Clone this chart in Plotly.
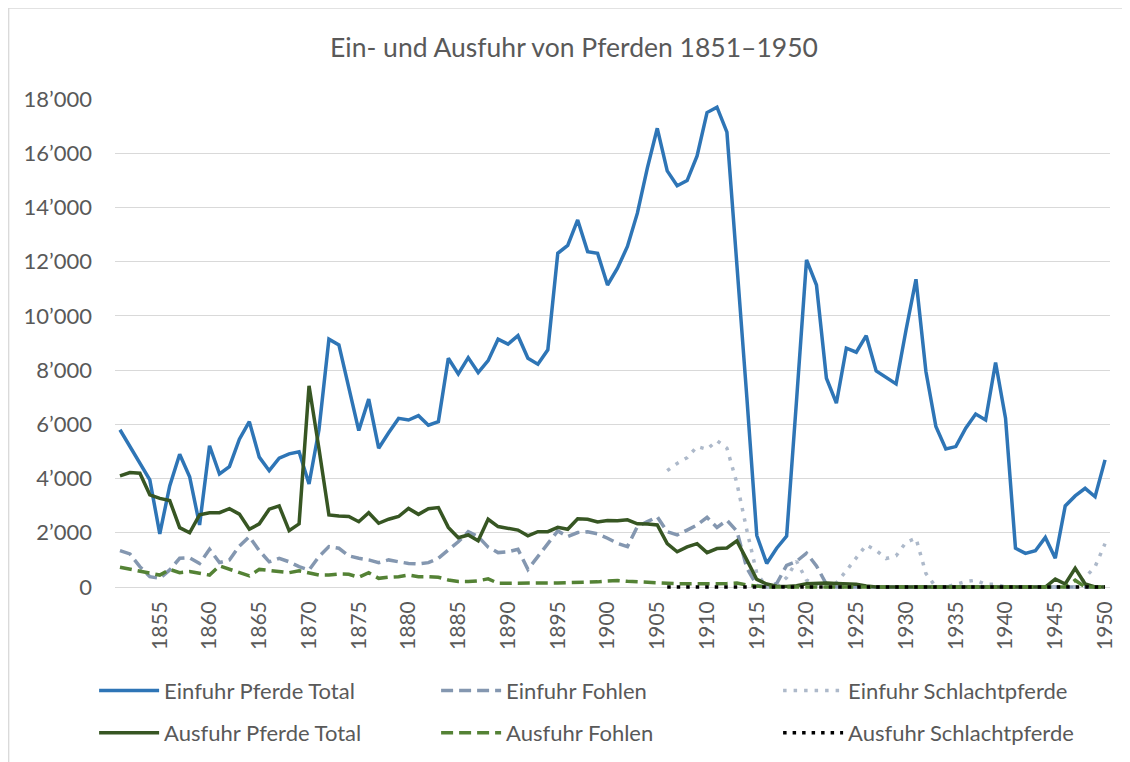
import plotly.graph_objects as go

years = list(range(1851, 1951))

einfuhr_total = [
    5800, 5180, 4560, 3950, 1960, 3730, 4900, 4070, 2290, 5210,
    4170, 4440, 5450, 6100, 4790, 4290, 4750, 4910, 4990, 3800,
    5800, 9140, 8930, 7400, 5770, 6930, 5120, 5690, 6220, 6160,
    6320, 5970, 6100, 8440, 7860, 8460, 7910, 8350, 9140, 8960,
    9270, 8440, 8220, 8750, 12310, 12600, 13540, 12370, 12310, 11140,
    11760, 12560, 13790, 15450, 16920, 15350, 14800, 14990, 15900, 17500,
    17700, 16780, 12000, 7000, 1900, 870, 1430, 1880, 6900, 12070,
    11140, 7700, 6780, 8810, 8660, 9270, 7970, 7720, 7490, 9480,
    11350, 7950, 5920, 5090, 5180, 5860, 6380, 6160, 8280, 6230,
    1430, 1240, 1340, 1830, 1060, 2990, 3360, 3640, 3330, 4690,
]

einfuhr_fohlen = [
    1340, 1220, 750, 380, 320, 630, 1060, 1080, 870, 1390,
    900, 1000, 1510, 1860, 1340, 930, 1060, 930, 750, 630,
    1120, 1490, 1430, 1150, 1060, 1000, 900, 1000, 930, 870,
    850, 900, 1060, 1370, 1670, 2040, 1860, 1470, 1270, 1300,
    1390, 650, 1120, 1590, 2070, 1860, 2010, 2040, 1960, 1800,
    1610, 1490, 2230, 2410, 2590, 2040, 1920, 2100, 2290, 2570,
    2200, 2460, 2060, 700, 60, 0, 130, 800, 950, 1250,
    780, 100, 0, 0, 0, 0, 0, 0, 0, 0,
    0, 0, 0, 0, 0, 0, 0, 0, 0, 0,
    0, 0, 0, 0, 0, 0, 0, 0, 0, 0,
]

einfuhr_schlacht = [None] * 55 + [
    4290, 4560, 4770, 5180, 5080, 5400, 5120, 3830, 2100,
    500, 0, 0, 350, 950, 250, 100, 0, 150, 600,
    1100, 1550, 1350, 1050, 1150, 1650, 1800, 500, 0, 0,
    100, 200, 250, 100, 100, 0, 0, 0, 0, 0,
    0, 0, 0, 350, 750, 1600,
]

ausfuhr_total = [
    4100, 4220, 4200, 3400, 3270, 3190, 2190, 2000, 2660, 2740,
    2740, 2890, 2690, 2130, 2330, 2870, 2990, 2080, 2330, 7420,
    5100, 2660, 2620, 2600, 2410, 2740, 2350, 2500, 2600, 2900,
    2680, 2890, 2930, 2200, 1820, 1920, 1710, 2500, 2230, 2160,
    2100, 1890, 2040, 2040, 2200, 2130, 2520, 2500, 2400, 2450,
    2440, 2480, 2330, 2320, 2290, 1600, 1300, 1480, 1600, 1270,
    1420, 1440, 1700, 1000, 280, 110, 30, 20, 50, 120,
    150, 150, 130, 110, 100, 40, 0, 0, 0, 0,
    0, 0, 0, 0, 0, 0, 0, 0, 0, 0,
    0, 0, 0, 0, 290, 110, 690, 110, 0, 0,
]

ausfuhr_fohlen = [
    730, 660, 570, 530, 440, 650, 530, 570, 500, 440,
    780, 650, 530, 410, 650, 600, 570, 530, 600, 530,
    440, 440, 480, 470, 360, 530, 320, 360, 380, 440,
    380, 380, 360, 260, 200, 200, 230, 300, 140, 140,
    140, 140, 120, 120, 150, 160, 160, 170, 190, 220,
    240, 210, 190, 160, 150, 130, 120, 120, 110, 120,
    120, 130, 150, 70, 20, 0, 0, 0, 0, 0,
    0, 0, 0, 0, 0, 0, 0, 0, 0, 0,
    0, 0, 0, 0, 0, 0, 0, 0, 0, 0,
    0, 0, 0, 0, 0, 0, 250, 0, 0, 0,
]

ausfuhr_schlacht = [None] * 55 + [0] * 45

y_tickvals = [0, 2000, 4000, 6000, 8000, 10000, 12000, 14000, 16000, 18000]
y_ticktext = ["0", "2’000", "4’000", "6’000", "8’000", "10’000", "12’000",
              "14’000", "16’000", "18’000"]
x_tickvals = list(range(1855, 1951, 5))

FONT = "Lato"
GREY = "#595959"

series = [
    ("Einfuhr Pferde Total", einfuhr_total, "#2e75b6", "solid", "legend"),
    ("Einfuhr Fohlen", einfuhr_fohlen, "#8497b0", "12px,6px", "legend"),
    ("Einfuhr Schlachtpferde", einfuhr_schlacht, "#adb9ca", "3.5px,7px", "legend"),
    ("Ausfuhr Pferde Total", ausfuhr_total, "#375623", "solid", "legend2"),
    ("Ausfuhr Fohlen", ausfuhr_fohlen, "#548235", "12px,6px", "legend2"),
    ("Ausfuhr Schlachtpferde", ausfuhr_schlacht, "#000000", "3.5px,6px", "legend2"),
]

fig = go.Figure()
for i, (name, vals, col, dash, leg) in enumerate(series):
    fig.add_trace(go.Scatter(
        x=years, y=vals, name=name, mode="lines",
        line=dict(color=col, width=3.5, dash=dash),
        connectgaps=False, legend=leg, legendrank=i + 1,
    ))

legend_common = dict(
    orientation="h", xanchor="left", yanchor="middle",
    font=dict(family=FONT, size=22, color=GREY),
    entrywidth=267, entrywidthmode="pixels", itemwidth=60,
    bgcolor="rgba(0,0,0,0)", traceorder="normal",
)

# page is shown with an 8px body offset: plot area (figure coords)
# x 107..1102, y 91 (18000) .. 579 (0); small pad below zero
Y_MIN = -110
fig.update_layout(
    width=1130, height=762,
    margin=dict(l=107, r=28, t=91, b=180, autoexpand=False),
    paper_bgcolor="white", plot_bgcolor="white",
    title=dict(text="Ein- und Ausfuhr von Pferden 1851–1950",
               x=566 / 1130, xref="container", xanchor="center",
               y=1 - 40 / 762, yref="container", yanchor="middle",
               font=dict(family=FONT, size=26.5, color=GREY)),
    showlegend=True,
    legend=dict(x=-0.021, y=-(100) / 488, **legend_common),
    legend2=dict(x=-0.021, y=-(142) / 488, **legend_common),
    xaxis=dict(
        range=[1850.5, 1950.5], tickmode="array", tickvals=x_tickvals,
        tickangle=-90, showgrid=False, zeroline=False, showline=False,
        ticks="", ticklabelstandoff=6,
        tickfont=dict(family=FONT, size=21, color=GREY),
    ),
    yaxis=dict(
        range=[Y_MIN, 18000], tickmode="array", tickvals=y_tickvals,
        ticktext=y_ticktext, showgrid=True, gridcolor="#d9d9d9",
        gridwidth=1.3, zeroline=False, showline=False, ticks="",
        ticklabelstandoff=22,
        tickfont=dict(family=FONT, size=22, color=GREY),
    ),
    shapes=[dict(
        type="rect", xref="paper", yref="paper",
        x0=(0.7 - 107) / 995, x1=(1145 - 107) / 995,
        y0=(579 - 775) / 488, y1=(579 - 0.7) / 488,
        line=dict(color="#d9d9d9", width=1.3), fillcolor="rgba(0,0,0,0)",
        layer="below",
    )],
)

fig.write_html("out.html")
